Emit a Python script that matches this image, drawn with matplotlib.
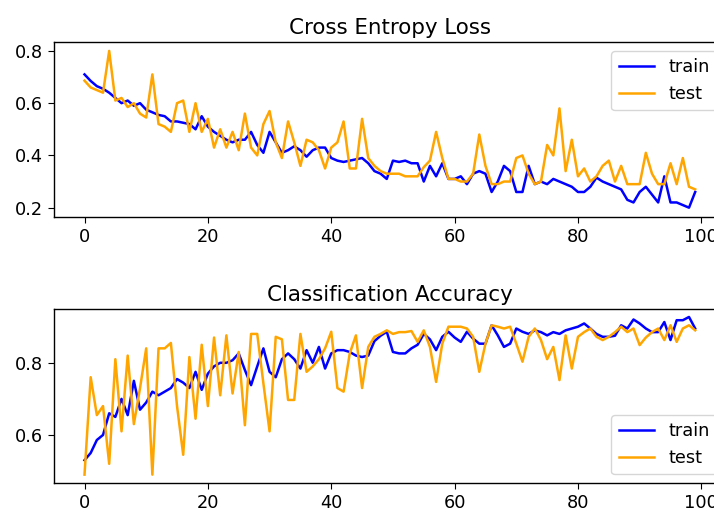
import matplotlib
matplotlib.use('Agg')
import matplotlib.pyplot as plt
import numpy as np

# valores (100 epocas)
epochs = list(range(100))

loss_train = [0.71, 0.685, 0.665, 0.655, 0.64, 0.62, 0.60, 0.61, 0.59, 0.60,
              0.575, 0.565, 0.555, 0.55, 0.53, 0.53, 0.525, 0.52, 0.50, 0.55,
              0.51, 0.49, 0.475, 0.46, 0.45, 0.46, 0.46, 0.49, 0.44, 0.41,
              0.49, 0.45, 0.41, 0.42, 0.435, 0.42, 0.395, 0.42, 0.43, 0.43,
              0.39, 0.38, 0.375, 0.38, 0.385, 0.39, 0.37, 0.34, 0.33, 0.31,
              0.38, 0.375, 0.38, 0.37, 0.37, 0.30, 0.36, 0.32, 0.37, 0.31,
              0.31, 0.32, 0.29, 0.33, 0.34, 0.33, 0.26, 0.30, 0.36, 0.34,
              0.26, 0.26, 0.36, 0.29, 0.30, 0.29, 0.31, 0.30, 0.29, 0.28,
              0.26, 0.26, 0.28, 0.315, 0.30, 0.29, 0.28, 0.27, 0.23, 0.22,
              0.26, 0.28, 0.25, 0.22, 0.32, 0.22, 0.22, 0.21, 0.20, 0.26]

loss_test = [0.686, 0.66, 0.65, 0.64, 0.80, 0.61, 0.62, 0.585, 0.60, 0.56,
             0.545, 0.71, 0.52, 0.51, 0.49, 0.60, 0.61, 0.49, 0.60, 0.49,
             0.54, 0.43, 0.50, 0.43, 0.49, 0.42, 0.56, 0.43, 0.40, 0.52,
             0.57, 0.45, 0.39, 0.53, 0.45, 0.36, 0.46, 0.45, 0.42, 0.35,
             0.43, 0.45, 0.53, 0.35, 0.35, 0.54, 0.39, 0.36, 0.34, 0.33,
             0.33, 0.33, 0.32, 0.32, 0.32, 0.355, 0.38, 0.49, 0.39, 0.31,
             0.31, 0.30, 0.30, 0.33, 0.48, 0.36, 0.29, 0.29, 0.30, 0.30,
             0.39, 0.40, 0.33, 0.29, 0.30, 0.44, 0.40, 0.58, 0.34, 0.46,
             0.32, 0.35, 0.30, 0.32, 0.36, 0.38, 0.30, 0.36, 0.29, 0.29,
             0.29, 0.41, 0.33, 0.29, 0.29, 0.37, 0.29, 0.39, 0.28, 0.27]

acc_train = [0.53, 0.55, 0.586, 0.60, 0.66, 0.65, 0.70, 0.655, 0.75, 0.67,
             0.69, 0.72, 0.71, 0.72, 0.73, 0.755, 0.745, 0.73, 0.775, 0.725,
             0.77, 0.79, 0.80, 0.80, 0.807, 0.826, 0.78, 0.738, 0.79, 0.84,
             0.775, 0.76, 0.81, 0.826, 0.81, 0.784, 0.835, 0.80, 0.844, 0.784,
             0.826, 0.835, 0.835, 0.83, 0.82, 0.816, 0.82, 0.86, 0.875, 0.886,
             0.83, 0.826, 0.826, 0.84, 0.85, 0.88, 0.865, 0.835, 0.872, 0.886,
             0.87, 0.858, 0.886, 0.867, 0.853, 0.853, 0.904, 0.876, 0.844, 0.853,
             0.895, 0.886, 0.88, 0.89, 0.885, 0.876, 0.885, 0.88, 0.89, 0.895,
             0.90, 0.909, 0.895, 0.88, 0.872, 0.872, 0.875, 0.904, 0.895, 0.92,
             0.909, 0.895, 0.885, 0.885, 0.913, 0.863, 0.918, 0.918, 0.927, 0.895]

acc_test = [0.49, 0.76, 0.655, 0.68, 0.52, 0.81, 0.61, 0.82, 0.63, 0.73,
            0.84, 0.49, 0.84, 0.84, 0.855, 0.68, 0.545, 0.816, 0.645, 0.85,
            0.68, 0.87, 0.71, 0.876, 0.715, 0.83, 0.627, 0.88, 0.88, 0.743,
            0.61, 0.872, 0.865, 0.697, 0.697, 0.88, 0.775, 0.79, 0.81, 0.84,
            0.886, 0.73, 0.72, 0.826, 0.876, 0.73, 0.844, 0.872, 0.88, 0.89,
            0.88, 0.885, 0.885, 0.888, 0.858, 0.89, 0.844, 0.747, 0.853, 0.90,
            0.90, 0.90, 0.895, 0.872, 0.775, 0.853, 0.904, 0.90, 0.895, 0.90,
            0.853, 0.803, 0.872, 0.895, 0.863, 0.81, 0.844, 0.752, 0.876, 0.784,
            0.872, 0.885, 0.895, 0.872, 0.863, 0.872, 0.885, 0.90, 0.885, 0.895,
            0.849, 0.87, 0.885, 0.895, 0.863, 0.904, 0.858, 0.895, 0.904, 0.89]

# figura original parece ampliada ~1.28x
plt.rcParams['font.size'] = 12.8
plt.rcParams['xtick.major.size'] = 4.5
plt.rcParams['ytick.major.size'] = 4.5
plt.rcParams['axes.linewidth'] = 1.0

fig = plt.figure(figsize=(7.14, 5.13), dpi=100)

# eixos passam da borda direita (imagem original cortada)
ax1 = fig.add_axes([0.0756, 0.5776, 0.9408, 0.340])
ax1.set_title('Cross Entropy Loss', fontsize=15.4)
ax1.plot(epochs, loss_train, color='blue', lw=1.8, label='train')
ax1.plot(epochs, loss_test, color='orange', lw=1.8, label='test')
ax1.set_xlim(-4.95, 103.95)
ax1.set_ylim(0.1655, 0.833)
ax1.set_yticks([0.2, 0.4, 0.6, 0.8])
ax1.set_xticks([0, 20, 40, 60, 80, 100])
ax1.legend(loc='upper right')

ax2 = fig.add_axes([0.0756, 0.0579, 0.9408, 0.339])
ax2.set_title('Classification Accuracy', fontsize=15.4)
ax2.plot(epochs, acc_train, color='blue', lw=1.8, label='train')
ax2.plot(epochs, acc_test, color='orange', lw=1.8, label='test')
ax2.set_xlim(-4.95, 103.95)
ax2.set_ylim(0.466, 0.948)
ax2.set_yticks([0.6, 0.8])
ax2.set_xticks([0, 20, 40, 60, 80, 100])
ax2.legend(loc='lower right')

plt.savefig('out.png', dpi=100)
